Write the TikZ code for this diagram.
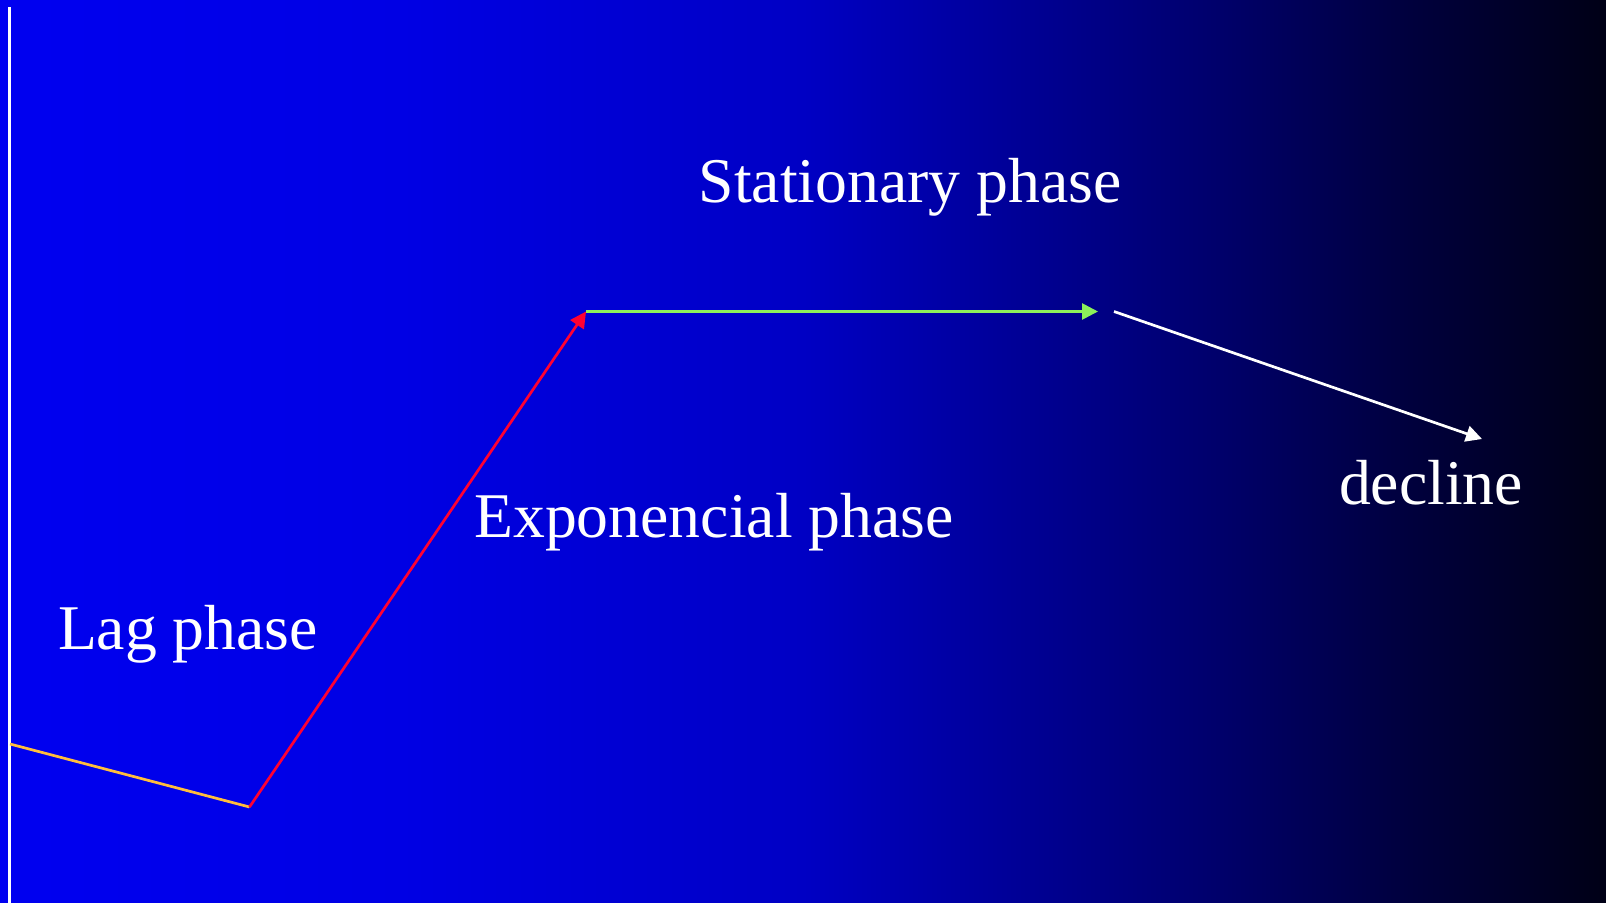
\documentclass[tikz,border=0pt]{standalone}
\usepackage{fontspec}
\setmainfont{Liberation Serif}
\usetikzlibrary{arrows.meta}
\definecolor{bgA}{RGB}{0,0,240}
\definecolor{bgB}{RGB}{0,0,228}
\definecolor{bgC}{RGB}{0,0,196}
\definecolor{bgD}{RGB}{0,0,110}
\definecolor{bgF}{RGB}{0,0,62}
\definecolor{bgE}{RGB}{0,0,22}
\definecolor{lagcol}{RGB}{255,190,60}
\definecolor{expcol}{RGB}{255,0,50}
\definecolor{statcol}{RGB}{140,240,90}
\pgfdeclarehorizontalshading{bgshade}{100bp}{color(0bp)=(bgA); color(25bp)=(bgA); color(37.5bp)=(bgB); color(50bp)=(bgC); color(62.5bp)=(bgD); color(68.75bp)=(bgF); color(75bp)=(bgE); color(100bp)=(bgE)}
\tikzset{
  phase/.style={line width=2.7pt},
  tip/.style={-{Triangle[length=16pt,width=16pt]}},
  lbl/.style={text=white, anchor=base, inner sep=0pt, font=\fontsize{63.7}{70}\selectfont}
}
\begin{document}
\begin{tikzpicture}[x=1pt,y=-1pt]
\useasboundingbox (0,0) rectangle (1606,905);
\fill[white] (0,0) rectangle (1606,905);
\shade[shading=bgshade] (0,0) rectangle (1606,902);
% axis
\coordinate (axtop) at (9.5,7);
\coordinate (axbot) at (9.5,905);
\draw[white, line width=3pt] (axtop) -- (axbot);
% curve points
\coordinate (p0) at (10,744);
\coordinate (p1) at (249.5,807);
\coordinate (p2) at (586,311.5);
\coordinate (p3) at (1098,311.5);
\coordinate (p4) at (1114,311.5);
\coordinate (p5) at (1482,439);
\draw[phase, lagcol] (p0) -- (p1);
\draw[phase, expcol, tip] (p1) -- (p2);
\draw[phase, statcol, tip] (p2) -- (p3);
\draw[phase, white, tip] (p4) -- (p5);
% labels
\node[lbl] (stat) at (910,202) {Stationary phase};
\node[lbl] (expo) at (714,537) {Exponencial phase};
\node[lbl] (lag) at (188,649) {Lag phase};
\node[lbl] (decl) at (1431,504) {decline};
\end{tikzpicture}
\end{document}
